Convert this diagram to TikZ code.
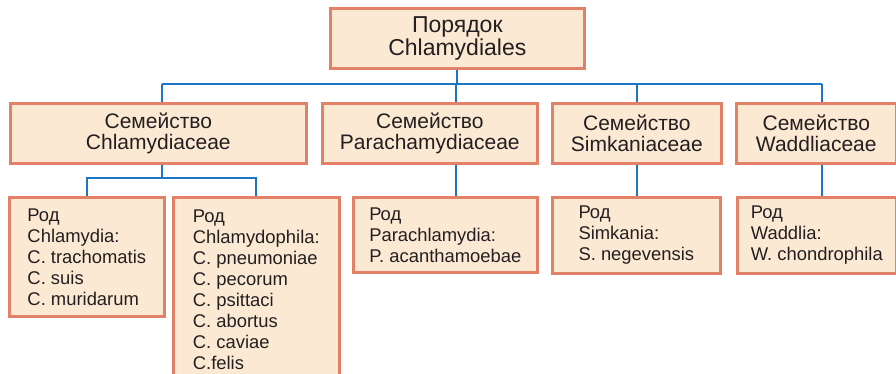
\documentclass[tikz,border=0pt]{standalone}
\usepackage{fontspec}
\setmainfont{Liberation Sans}
\usetikzlibrary{calc}
\definecolor{boxfill}{RGB}{252,233,212}
\definecolor{boxline}{RGB}{226,128,104}
\definecolor{linkblue}{RGB}{28,118,196}
\definecolor{txt}{RGB}{35,31,32}
\tikzset{
  box/.style={draw=boxline, fill=boxfill, line width=2.6pt, inner sep=0pt,
    anchor=north west, text=txt},
  orderbox/.style={box, align=center, minimum height=60pt,
    font=\fontsize{23}{21}\selectfont},
  familybox/.style={box, align=center, minimum height=60pt,
    font=\fontsize{21}{21}\selectfont},
  genusbox/.style={box, align=left,
    font=\fontsize{18.4}{21}\selectfont},
  link/.style={draw=linkblue, line width=2.2pt},
}
\begin{document}
\begin{tikzpicture}[x=1pt, y=-1pt]
      \useasboundingbox (0,0) rectangle (896,374);

      % order
      \node[orderbox, minimum width=254pt] (order) at (329,7) {Порядок\\Chlamydiales};

      % families
      \node[familybox, minimum width=296pt] (chlf) at (9,102) {Семейство\\Chlamydiaceae};
      \node[familybox, minimum width=215pt] (parf) at (321,102) {Семейство\\Parachamydiaceae};
      \node[familybox, minimum width=169pt] (simf) at (551,102) {Семейство\\Simkaniaceae};
      \node[familybox, minimum width=160pt] (wadf) at (735,102) {Семейство\\Waddliaceae};

      % genera
      \node[genusbox, minimum width=155pt, minimum height=119pt] (chlg) at (8,196)
      {Род\\Chlamydia:\\C. trachomatis\\C. suis\\C. muridarum};
      \node[genusbox, minimum width=166pt, minimum height=185pt] (chpg) at (172,196)
      {Род\\Chlamydophila:\\C. pneumoniae\\C. pecorum\\C. psittaci\\C. abortus\\C. caviae\\C.felis};
      \node[genusbox, minimum width=184pt, minimum height=75pt] (parg) at (352,196)
      {Род\\Parachlamydia:\\P. acanthamoebae};
      \node[genusbox, minimum width=168pt, minimum height=76pt] (simg) at (551,196)
      {Род\\Simkania:\\S. negevensis};
      \node[genusbox, minimum width=159pt, minimum height=76pt] (wadg) at (736,196)
      {Род\\Waddlia:\\W. chondrophila};

      \coordinate (bus) at (0,84);
      \coordinate (split) at (0,178);

      \draw[link] (order.south) -- (order.south |- bus);
      \draw[link] ([xshift=4pt]chlf.north |- bus) -- ([xshift=6pt]wadf.north |- bus);
      \foreach \fam/\dx in {chlf/4, parf/26.5, simf/0, wadf/6}
        \draw[link] ([xshift=\dx pt]\fam.north |- bus) -- ([xshift=\dx pt]\fam.north);

      \draw[link] ([xshift=4pt]chlf.south) -- ([xshift=4pt]chlf.south |- split);
      \draw[link] (chlg.north) -- (chlg.north |- split) -| (chpg.north);
      \foreach \fam/\gen/\dx in {parf/parg/26.5, simf/simg/0, wadf/wadg/6}
        \draw[link] ([xshift=\dx pt]\fam.south) -- ([xshift=\dx pt]\fam.south |- \gen.north);
\end{tikzpicture}
\end{document}
